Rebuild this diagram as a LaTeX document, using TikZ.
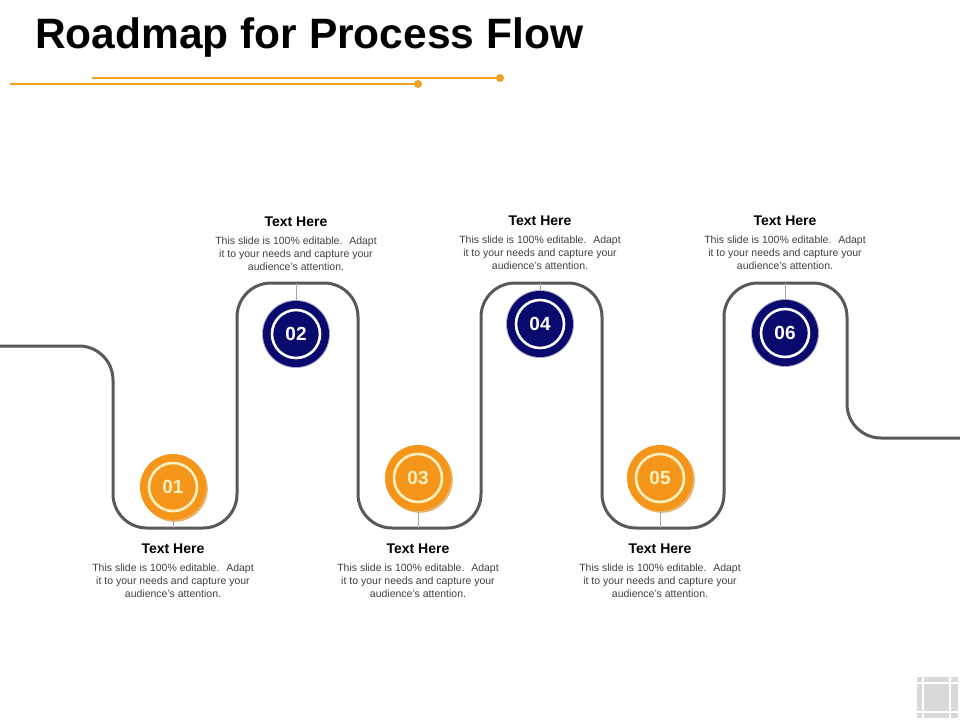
\documentclass[tikz,border=0pt]{standalone}
\usepackage{fontspec}
\setmainfont{Liberation Sans}
\usepackage{xcolor}
\definecolor{roadgray}{HTML}{595959}
\definecolor{stepor}{HTML}{F5961A}
\definecolor{stepshade}{HTML}{D9800C}
\definecolor{stepnavy}{HTML}{0A0A6E}
\definecolor{ringcream}{HTML}{FFF1C2}
\definecolor{linegold}{HTML}{F0A020}
\definecolor{desc}{HTML}{404040}
\newcommand{\headlab}{\fontsize{14}{16}\selectfont\bfseries Text Here}
\newcommand{\desclab}{This slide is 100\% editable.~ Adapt\\
                      it to your needs and capture your\\
                      audience's attention.}
\newcommand{\numlab}[1]{\fontsize{19}{21}\selectfont\bfseries #1}

\begin{document}
\begin{tikzpicture}[ x = 1pt, y = -1pt,
                     orstep/.style={circle,fill=stepor,minimum size=66pt,inner sep=0pt},
                     navstep/.style={circle,fill=stepnavy,minimum size=66pt,inner sep=0pt},
                     ringin/.style={circle,draw=#1,line width=2.6pt,minimum size=48pt,inner sep=0pt},
                     tick/.style={draw=gray!70,line width=0.6pt},
                     descnode/.style={anchor=north,align=center,inner sep=0pt,text=desc,
                                      font=\fontsize{10.5}{13}\selectfont},
                   ]
 \useasboundingbox (0,0) rectangle (960,720);

 % title and gold rules
 \draw (35,38) node[anchor=west,inner sep=0pt] (T)
              {\fontsize{42.5}{46}\selectfont\bfseries Roadmap for Process Flow};
 \fill[linegold] (500,78) circle (4pt) coordinate (g1);
 \fill[linegold] (418,84) circle (4pt) coordinate (g2);
 \draw[linegold,line width=1.2pt] (92,78) -- (g1);
 \draw[linegold,line width=1.2pt] (10,84) -- (g2);

 % winding road
 \draw[roadgray,line width=3pt,rounded corners=34pt]
   (0,346) -- (113,346) -- (113,528) -- (237,528) -- (237,283)
   -- (358,283) -- (358,528) -- (481,528) -- (481,283) -- (602,283)
   -- (602,528) -- (724,528) -- (724,283) -- (847,283) -- (847,438)
   -- (960,438);
 \coordinate (r1) at (173,528);
 \coordinate (r2) at (296,283);
 \coordinate (r3) at (418,528);
 \coordinate (r4) at (540,283);
 \coordinate (r5) at (660,528);
 \coordinate (r6) at (785,283);

 % orange steps
 \foreach \n/\x/\y in {1/173/487,3/418/478,5/660/478}{
   \fill[stepshade,opacity=0.6] (\x+1.8,\y+1.8) circle (33pt);
   \draw (\x,\y) node[orstep] (S\n) {};
   \draw (\x,\y) node[ringin=ringcream,text=ringcream] (N\n) {\numlab{0\n}};
 }
 % navy steps
 \foreach \n/\x/\y in {2/296/334,4/540/324,6/785/333}{
   \fill[stepnavy!35] (\x,\y) circle (34pt);
   \draw (\x,\y) node[navstep] (S\n) {};
   \draw (\x,\y) node[ringin=white,text=white] (N\n) {\numlab{0\n}};
 }

 % ticks from steps to the road
 \draw[tick] (S1.south) -- (r1);
 \draw[tick] (S3.south) -- (r3);
 \draw[tick] (S5.south) -- (r5);
 \draw[tick] (S2.north) -- (r2);
 \draw[tick] (S4.north) -- (r4);
 \draw[tick] (S6.north) -- (r6);

 % labels
 \foreach \n/\x/\y in {1/173/549,3/418/549,5/660/549,2/296/222,4/540/221,6/785/221}{
   \draw (\x,\y) node[inner sep=0pt] (H\n) {\headlab};
   \draw (\x,\y+15) node[descnode] (D\n) {\desclab};
 }

 % corner icon
 \fill[gray!30] (917,677) rectangle (958,718);
 \draw[white,line width=1.2pt] (923,677) -- (923,718) (950,677) -- (950,718)
   (917,683) -- (958,683) (917,712) -- (958,712);

\end{tikzpicture}
\end{document}
